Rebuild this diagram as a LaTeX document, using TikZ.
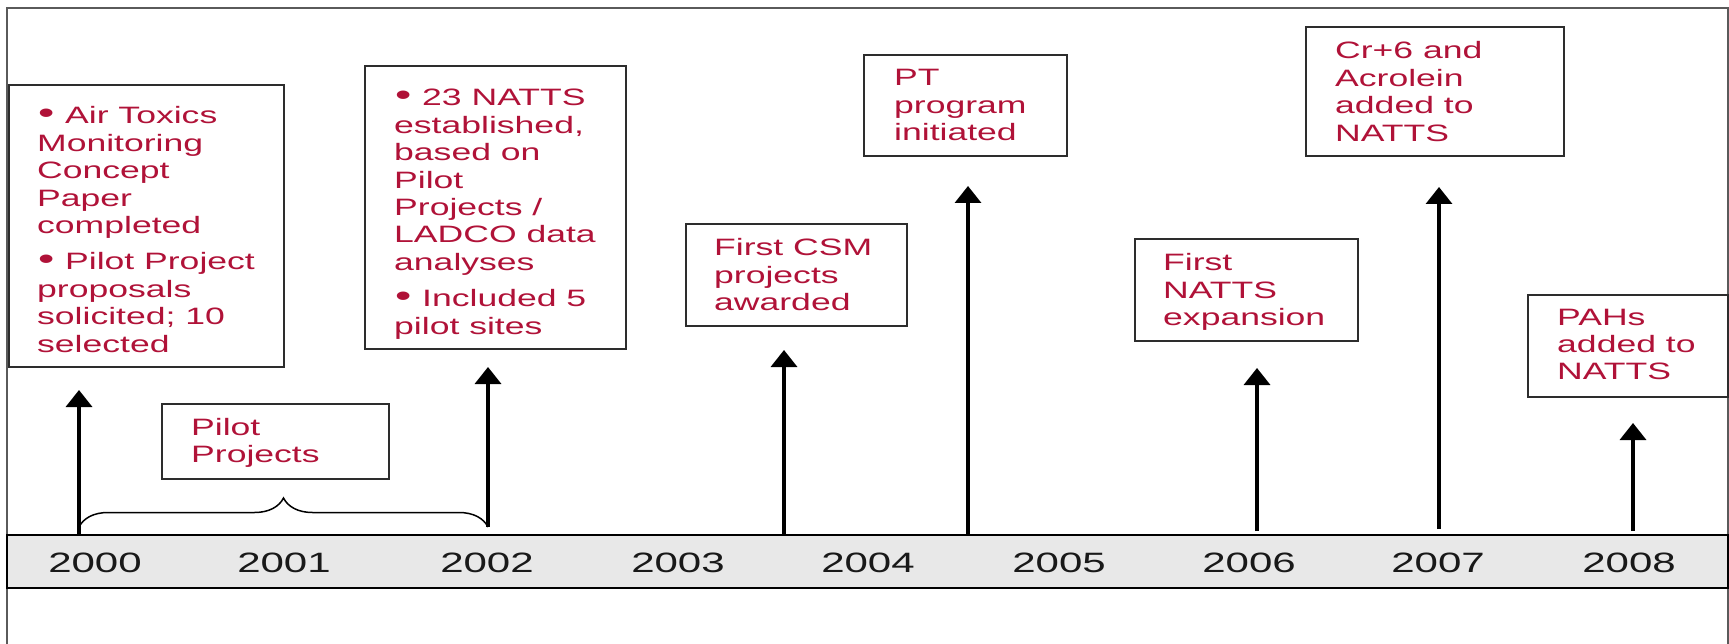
\documentclass[tikz,border=0pt]{standalone}
\usepackage{fontspec}
\setmainfont{Liberation Sans}[FakeStretch=1.5]
\usetikzlibrary{arrows.meta,fit,decorations.pathreplacing}
\definecolor{txtred}{RGB}{176,18,56}
\definecolor{boxline}{RGB}{45,45,45}
\definecolor{framegray}{RGB}{90,90,90}
\definecolor{barfill}{RGB}{232,232,232}
\newcommand{\bul}{\makebox[28pt][l]{\hspace{1pt}{\fontsize{31}{31}\selectfont •}}}
\tikzset{
  evbox/.style={draw=boxline, line width=2pt, inner sep=0pt},
  evtext/.style={anchor=base west, inner sep=0pt, text=txtred, font=\fontsize{23.7}{27.4}\selectfont},
  yeartext/.style={anchor=base, inner sep=0pt, text=black!90, font=\fontsize{28}{32}\selectfont},
  uparrow/.style={-{Triangle[width=26pt,length=17pt]}, line width=3.5pt},
  bracestyle/.style={decorate, decoration={brace, amplitude=29pt}, line width=1.5pt},
}
\begin{document}
\begin{tikzpicture}[x=1pt, y=-1pt]
\useasboundingbox (0,0) rectangle (1729,644);
% outer frame
\draw[framegray, line width=2pt] (7,644) -- (7,8) -- (1728,8) -- (1728,644);
% timeline bar
\node[draw=black, line width=2.5pt, fill=barfill, inner sep=0pt, fit={(7,535) (1728,588)}] (bar) {};
% years
\node[yeartext] (y2000) at (95,572) {2000};
\node[yeartext] (y2001) at (284,572) {2001};
\node[yeartext] (y2002) at (487,572) {2002};
\node[yeartext] (y2003) at (678,572) {2003};
\node[yeartext] (y2004) at (868,572) {2004};
\node[yeartext] (y2005) at (1059,572) {2005};
\node[yeartext] (y2006) at (1249,572) {2006};
\node[yeartext] (y2007) at (1438,572) {2007};
\node[yeartext] (y2008) at (1629,572) {2008};
% boxes
\node[evbox, fit={(9,85) (284,367)}] (b2000) {};
\node[evbox, fit={(162,404) (389,479)}] (bpilot) {};
\node[evbox, fit={(365,66) (626,349)}] (b2002) {};
\node[evbox, fit={(686,224) (907,326)}] (bcsm) {};
\node[evbox, fit={(864,55) (1067,156)}] (bpt) {};
\node[evbox, fit={(1135,239) (1358,341)}] (b2006) {};
\node[evbox, fit={(1306,27) (1564,156)}] (b2007) {};
\node[evbox, fit={(1528,295) (1728,397)}] (b2008) {};
% texts
\node[evtext] (t2000) at (37,124) {\vtop{\hbox{\bul Air Toxics}\hbox{Monitoring}\hbox{Concept}\hbox{Paper}\hbox{completed}\kern9pt\hbox{\bul Pilot Project}\hbox{proposals}\hbox{solicited; 10}\hbox{selected}}};
\node[evtext] (tpilot) at (191,435) {\vtop{\hbox{Pilot}\hbox{Projects}}};
\node[evtext] (t2002) at (394,106) {\vtop{\hbox{\bul 23 NATTS}\hbox{established,}\hbox{based on}\hbox{Pilot}\hbox{Projects /}\hbox{LADCO data}\hbox{analyses}\kern9pt\hbox{\bul Included 5}\hbox{pilot sites}}};
\node[evtext] (tcsm) at (714,256) {\vtop{\hbox{First CSM}\hbox{projects}\hbox{awarded}}};
\node[evtext] (tpt) at (894,86) {\vtop{\hbox{PT}\hbox{program}\hbox{initiated}}};
\node[evtext] (t2006) at (1163,271) {\vtop{\hbox{First}\hbox{NATTS}\hbox{expansion}}};
\node[evtext] (t2007) at (1335,59) {\vtop{\hbox{Cr+6 and}\hbox{Acrolein}\hbox{added to}\hbox{NATTS}}};
\node[evtext] (t2008) at (1557,325) {\vtop{\hbox{PAHs}\hbox{added to}\hbox{NATTS}}};
% arrow coordinates
\coordinate (s2000) at (79,535);   \coordinate (e2000) at (79,390);
\coordinate (s2002) at (488,527);  \coordinate (e2002) at (488,367);
\coordinate (scsm) at (784,535);   \coordinate (ecsm) at (784,350);
\coordinate (spt) at (968,535);    \coordinate (ept) at (968,186);
\coordinate (s2006) at (1257,531); \coordinate (e2006) at (1257,368);
\coordinate (s2007) at (1439,529); \coordinate (e2007) at (1439,187);
\coordinate (s2008) at (1633,531); \coordinate (e2008) at (1633,423);
\coordinate (br0) at (79,527);
% arrows
\draw[uparrow] (s2000) -- (e2000);
\draw[uparrow] (s2002) -- (e2002);
\draw[uparrow] (scsm) -- (ecsm);
\draw[uparrow] (spt) -- (ept);
\draw[uparrow] (s2006) -- (e2006);
\draw[uparrow] (s2007) -- (e2007);
\draw[uparrow] (s2008) -- (e2008);
% brace
\draw[bracestyle] (br0) -- (s2002);
\end{tikzpicture}
\end{document}
